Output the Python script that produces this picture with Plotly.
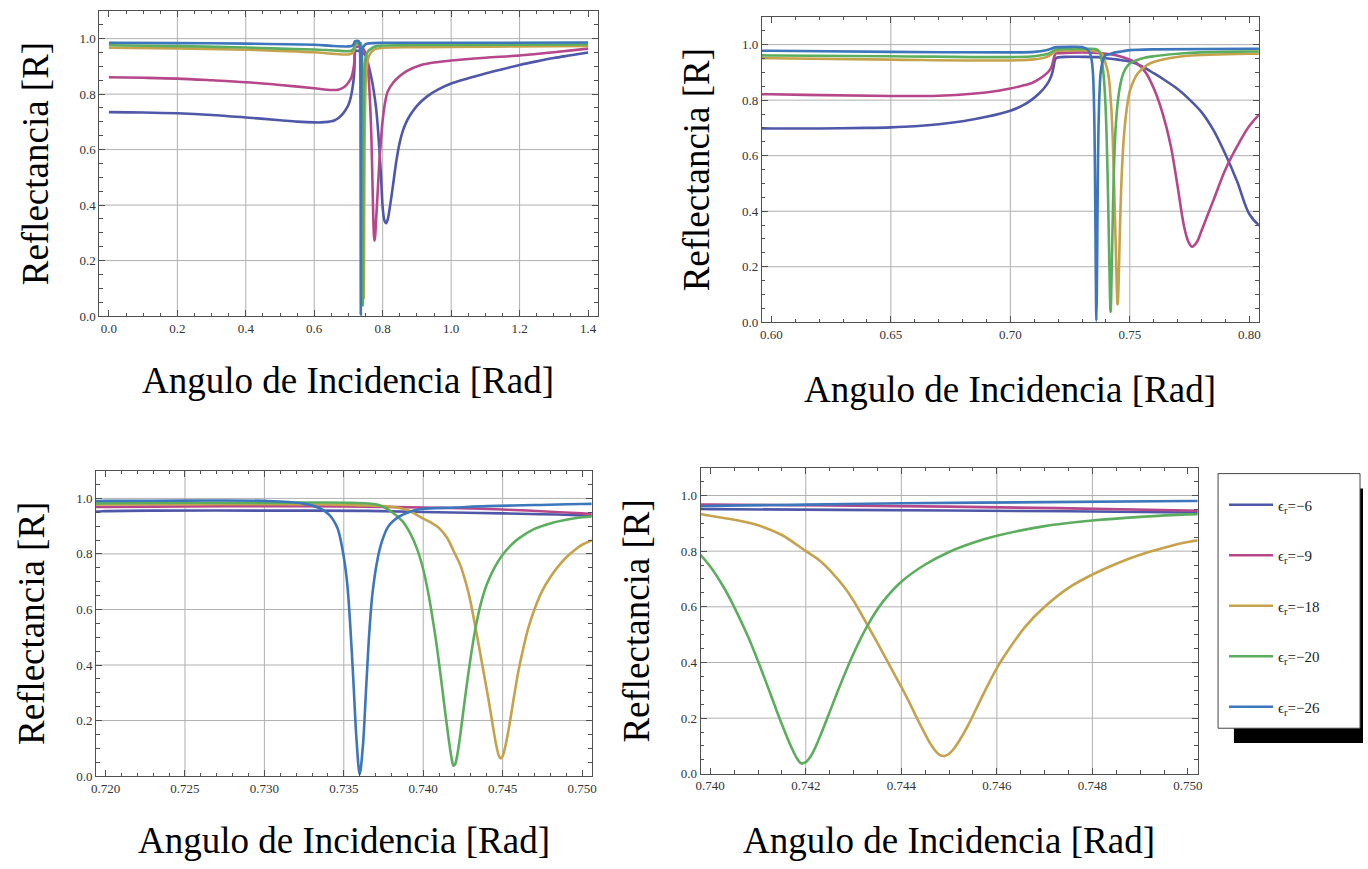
import plotly.graph_objects as go

W, H = 1368, 869
SERIF = "Liberation Serif, Times New Roman, DejaVu Serif, serif"
FRAME = "#505050"
GRID = "#b0b0b0"
TICKC = "#333333"

# ---------------- data ----------------
labels = ["ϵ<sub>r</sub>=−6", "ϵ<sub>r</sub>=−9", "ϵ<sub>r</sub>=−18",
          "ϵ<sub>r</sub>=−20", "ϵ<sub>r</sub>=−26"]
colors = ["#4F58A8", "#B5478A", "#C6A24C", "#5CAE5E", "#3D76BA"]

x6 = [0.0, 0.1, 0.2, 0.3, 0.4, 0.5, 0.55, 0.6, 0.62, 0.64, 0.65, 0.66, 0.67, 0.68, 0.69, 0.70,
      0.705, 0.709, 0.712, 0.714, 0.716, 0.717, 0.7176, 0.7181, 0.7186, 0.7191, 0.72, 0.723,
      0.73, 0.7365, 0.74, 0.745, 0.75, 0.755, 0.76, 0.765, 0.77, 0.775, 0.78, 0.785, 0.79,
      0.795, 0.80, 0.805, 0.81, 0.815, 0.82, 0.83, 0.84, 0.85, 0.86, 0.87, 0.88, 0.90, 0.93,
      0.96, 1.0, 1.05, 1.1, 1.15, 1.2, 1.25, 1.3, 1.35, 1.4]
y6 = [0.735, 0.734, 0.731, 0.725, 0.716, 0.706, 0.701, 0.698, 0.698, 0.700, 0.702, 0.706,
      0.713, 0.724, 0.740, 0.762, 0.780, 0.802, 0.824, 0.842, 0.866, 0.884, 0.900, 0.920,
      0.943, 0.951, 0.954, 0.956, 0.956, 0.955, 0.951, 0.946, 0.939, 0.922, 0.897, 0.870,
      0.840, 0.802, 0.757, 0.692, 0.605, 0.505, 0.390, 0.345, 0.335, 0.350, 0.385, 0.470,
      0.560, 0.627, 0.672, 0.702, 0.724, 0.758, 0.792, 0.815, 0.838, 0.857, 0.874, 0.890,
      0.905, 0.918, 0.930, 0.940, 0.950]

x9 = [0.0, 0.1, 0.2, 0.3, 0.4, 0.5, 0.6, 0.65, 0.67, 0.684, 0.695, 0.70, 0.705, 0.709, 0.712,
      0.714, 0.716, 0.717, 0.7176, 0.7181, 0.7186, 0.7191, 0.72, 0.725, 0.73, 0.735, 0.74,
      0.745, 0.75, 0.753, 0.7567, 0.7602, 0.7636, 0.7671, 0.7699, 0.7727, 0.7745, 0.776,
      0.778, 0.78, 0.785, 0.79, 0.795, 0.80, 0.807, 0.815, 0.831, 0.85, 0.87, 0.91, 0.95,
      1.0, 1.1, 1.2, 1.3, 1.4]
y9 = [0.861, 0.859, 0.856, 0.850, 0.843, 0.833, 0.821, 0.815, 0.816, 0.823, 0.834, 0.842,
      0.852, 0.862, 0.876, 0.888, 0.903, 0.915, 0.930, 0.948, 0.962, 0.968, 0.969, 0.971,
      0.972, 0.971, 0.967, 0.960, 0.946, 0.933, 0.899, 0.839, 0.756, 0.637, 0.495, 0.345,
      0.290, 0.272, 0.288, 0.330, 0.440, 0.550, 0.635, 0.707, 0.770, 0.810, 0.842, 0.865,
      0.883, 0.904, 0.914, 0.921, 0.931, 0.939, 0.951, 0.964]

x18 = [0.0, 0.2, 0.4, 0.5, 0.6, 0.65, 0.70, 0.71, 0.715, 0.717, 0.7186, 0.7191, 0.72, 0.73,
       0.734, 0.736, 0.738, 0.739, 0.740, 0.7405, 0.741, 0.7415, 0.742, 0.7423, 0.7425,
       0.7428, 0.743, 0.7433, 0.7435, 0.7438, 0.744, 0.7442, 0.7444, 0.7446, 0.7447, 0.7448,
       0.7449, 0.745, 0.7451, 0.7452, 0.7454, 0.7456, 0.7458, 0.746, 0.7463, 0.7466, 0.747,
       0.7475, 0.748, 0.7485, 0.749, 0.7495, 0.750, 0.7532, 0.757, 0.7602, 0.767, 0.7741,
       0.80, 0.9, 1.0, 1.2, 1.4]
y18 = [0.967, 0.965, 0.960, 0.956, 0.951, 0.946, 0.943, 0.947, 0.955, 0.964, 0.974, 0.977,
       0.978, 0.979, 0.978, 0.975, 0.970, 0.958, 0.927, 0.913, 0.893, 0.858, 0.800, 0.765,
       0.732, 0.672, 0.622, 0.532, 0.470, 0.375, 0.312, 0.245, 0.175, 0.110, 0.085, 0.068,
       0.064, 0.072, 0.090, 0.115, 0.175, 0.245, 0.315, 0.380, 0.460, 0.530, 0.600, 0.668,
       0.716, 0.755, 0.787, 0.812, 0.833, 0.895, 0.925, 0.938, 0.952, 0.960, 0.967, 0.969,
       0.970, 0.972, 0.974]

x20 = [0.0, 0.2, 0.4, 0.5, 0.6, 0.65, 0.70, 0.71, 0.715, 0.717, 0.7186, 0.72, 0.73, 0.7355,
       0.7372, 0.738, 0.7387, 0.7392, 0.7396, 0.740, 0.7403, 0.7405, 0.7408, 0.741, 0.7412,
       0.7414, 0.7415, 0.7416, 0.7417, 0.7418, 0.7419, 0.742, 0.7421, 0.7422, 0.7423, 0.7424,
       0.7425, 0.7427, 0.743, 0.7433, 0.7436, 0.744, 0.7445, 0.745, 0.7455, 0.746, 0.747,
       0.748, 0.749, 0.750, 0.755, 0.760, 0.774, 0.80, 1.0, 1.4]
y20 = [0.976, 0.973, 0.968, 0.964, 0.961, 0.958, 0.955, 0.958, 0.965, 0.972, 0.980, 0.983,
       0.984, 0.984, 0.976, 0.952, 0.917, 0.872, 0.820, 0.745, 0.665, 0.600, 0.490, 0.405,
       0.315, 0.222, 0.178, 0.135, 0.095, 0.060, 0.038, 0.042, 0.062, 0.095, 0.135, 0.178,
       0.222, 0.310, 0.432, 0.535, 0.615, 0.690, 0.752, 0.797, 0.830, 0.855, 0.890, 0.910,
       0.923, 0.932, 0.950, 0.958, 0.970, 0.975, 0.977, 0.979]

x26 = [0.0, 0.2, 0.4, 0.6, 0.65, 0.70, 0.71, 0.715, 0.717, 0.7186, 0.72, 0.725, 0.73, 0.7324,
       0.7335, 0.7341, 0.7346, 0.7349, 0.7352, 0.7354, 0.7356, 0.7358, 0.736, 0.7362, 0.7364,
       0.7366, 0.7368, 0.7371, 0.7374, 0.7378, 0.7385, 0.7393, 0.7399, 0.742, 0.744, 0.747,
       0.75, 0.76, 0.80, 1.0, 1.4]
y26 = [0.985, 0.984, 0.982, 0.978, 0.974, 0.972, 0.974, 0.980, 0.985, 0.990, 0.991, 0.992,
       0.991, 0.982, 0.964, 0.940, 0.893, 0.821, 0.702, 0.548, 0.345, 0.131, 0.006, 0.107,
       0.310, 0.512, 0.655, 0.774, 0.845, 0.899, 0.935, 0.955, 0.962, 0.967, 0.972, 0.976,
       0.980, 0.983, 0.985, 0.985, 0.986]

series_x = [x6, x9, x18, x20, x26]
series_y = [y6, y9, y18, y20, y26]

# panel axis settings: x ranges, major/minor steps, tick formats
x_ranges = [[-0.028, 1.428], [0.596, 0.804], [0.7194, 0.7506], [0.7398, 0.7502]]
x_dticks = [0.2, 0.05, 0.005, 0.002]
x_minor = [0.05, 0.01, 0.001, 0.0005]
x_formats = [".1f", ".2f", ".3f", ".3f"]
grid_x = [[0.2, 0.4, 0.6, 0.8, 1.0, 1.2], [0.65, 0.70, 0.75],
          [0.725, 0.730, 0.735, 0.740, 0.745], [0.742, 0.744, 0.746, 0.748]]
grid_y = [0.2, 0.4, 0.6, 0.8, 1.0]
y_range = [0, 1.1]

# panel frames in pixels (left, right, top, bottom)
frames = [(95, 597, 11, 319), (762.4, 1263.1, 17, 325.3),
          (91.7, 590.9, 475, 783.3), (700.8, 1201.3, 472, 781)]
# title positions (pixels): y-title centre, x-title centre
ytitle_pos = [(31, 165), (697, 171), (26, 629), (636, 627)]
xtitle_pos = [(346, 384), (1012, 393), (341, 848), (951, 848)]

fig = go.Figure()

for p in range(4):
    ax = "" if p == 0 else str(p + 1)
    for i in range(5):
        fig.add_trace(go.Scatter(
            x=series_x[i], y=series_y[i], mode="lines", name=labels[i],
            legendgroup=labels[i], showlegend=(p == 0),
            line=dict(color=colors[i], width=2.6, shape="spline", smoothing=0.9),
            xaxis="x" + ax, yaxis="y" + ax, hoverinfo="skip"))

layout = dict(width=W, height=H, margin=dict(l=0, r=0, t=0, b=0),
              paper_bgcolor="white", plot_bgcolor="white",
              font=dict(family=SERIF, color=TICKC))

shapes = []
annotations = []
for p in range(4):
    l, r, t, b = frames[p]
    ax = "" if p == 0 else str(p + 1)
    common = dict(ticks="inside", ticklen=6, tickwidth=1, tickcolor=FRAME,
                  showline=True, linecolor=FRAME, linewidth=1, mirror="allticks",
                  showgrid=False, zeroline=False, fixedrange=True,
                  tickfont=dict(family=SERIF, size=13, color=TICKC))
    layout["xaxis" + ax] = dict(
        domain=[l / W, r / W], range=x_ranges[p], anchor="y" + ax,
        tick0=0, dtick=x_dticks[p], tickformat=x_formats[p],
        minor=dict(dtick=x_minor[p], tick0=0, ticks="inside", ticklen=3.5,
                   tickwidth=1, tickcolor=FRAME, showgrid=False),
        **common)
    layout["yaxis" + ax] = dict(
        domain=[1 - b / H, 1 - t / H], range=y_range, anchor="x" + ax,
        tick0=0, dtick=0.2, tickformat=".1f",
        minor=dict(dtick=0.05, tick0=0, ticks="inside", ticklen=3.5,
                   tickwidth=1, tickcolor=FRAME, showgrid=False),
        **common)
    for v in grid_x[p]:
        shapes.append(dict(type="line", xref="x" + ax, yref="y" + ax + " domain",
                           x0=v, x1=v, y0=0, y1=1, layer="below",
                           line=dict(color=GRID, width=1)))
    for v in grid_y:
        shapes.append(dict(type="line", xref="x" + ax + " domain", yref="y" + ax,
                           x0=0, x1=1, y0=v, y1=v, layer="below",
                           line=dict(color=GRID, width=1)))
    yx, yy = ytitle_pos[p]
    annotations.append(dict(text="Reflectancia [R]", xref="paper", yref="paper",
                            x=yx / W, y=1 - yy / H, xanchor="center", yanchor="middle",
                            textangle=-90, showarrow=False,
                            font=dict(family=SERIF, size=37, color="black")))
    xx, xy = xtitle_pos[p]
    annotations.append(dict(text="Angulo de Incidencia [Rad]", xref="paper", yref="paper",
                            x=xx / W, y=1 - xy / H, xanchor="center", yanchor="middle",
                            showarrow=False,
                            font=dict(family=SERIF, size=37, color="black")))

# legend box with drop shadow
shapes.append(dict(type="rect", xref="paper", yref="paper",
                   x0=1238 / W, x1=1368 / W, y0=1 - 750 / H, y1=1 - 493 / H,
                   fillcolor="black", line=dict(width=0), layer="above"))
shapes.append(dict(type="rect", xref="paper", yref="paper",
                   x0=1222 / W, x1=1365 / W, y0=1 - 735 / H, y1=1 - 478 / H,
                   fillcolor="white", line=dict(color="#444444", width=1), layer="above"))

layout["shapes"] = shapes
layout["annotations"] = annotations
layout["legend"] = dict(x=1228 / W, y=1 - 493 / H, xanchor="left", yanchor="top",
                        bgcolor="rgba(0,0,0,0)", borderwidth=0,
                        traceorder="grouped", tracegroupgap=28, itemwidth=44,
                        font=dict(family=SERIF, size=15, color="#222222"))
layout["showlegend"] = True

fig.update_layout(**layout)
fig.write_html("out.html")
